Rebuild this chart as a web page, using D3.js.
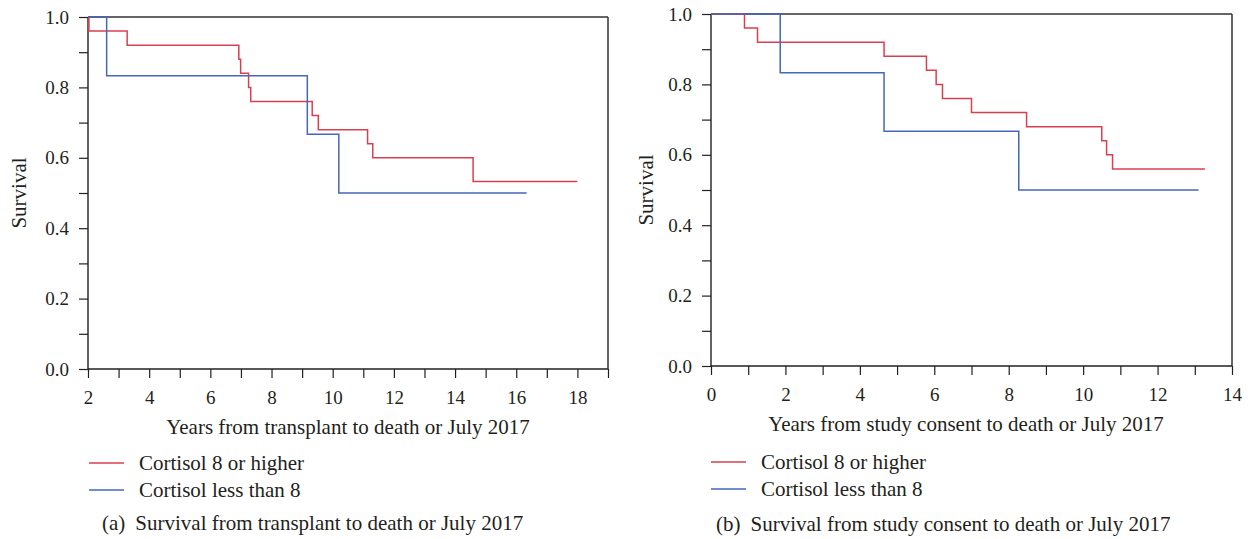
<!DOCTYPE html>
<html>
<head>
<meta charset="utf-8">
<script src="https://cdn.jsdelivr.net/npm/d3@7"></script>
<style>
  html, body { margin: 0; padding: 0; background: #fff; }
  svg { display: block; }
  text { font-family: "Liberation Serif", "DejaVu Serif", serif; fill: #231f20; }
</style>
</head>
<body>
<svg id="chart" width="1250" height="539"></svg>
<script>
// ---------- DATA ----------
const seriesNames = ["Cortisol 8 or higher", "Cortisol less than 8"];
const seriesColors = ["#d9404f", "#4466bb"];

// Panel (a): years from transplant
const aRedTimes  = [2, 2.03, 3.28, 6.93, 6.99, 7.25, 7.32, 9.33, 9.53, 11.14, 11.31, 14.59, 18.0];
const aRedSurv   = [1.0, 0.96, 0.92, 0.88, 0.84, 0.80, 0.76, 0.72, 0.68, 0.64, 0.60, 0.533, 0.533];
const aBlueTimes = [2, 2.61, 9.17, 10.2, 16.34];
const aBlueSurv  = [1.0, 0.833, 0.667, 0.5, 0.5];

// Panel (b): years from study consent
const bRedTimes  = [0, 0.9, 1.25, 4.65, 5.79, 6.05, 6.22, 7.0, 8.48, 10.5, 10.63, 10.79, 13.27];
const bRedSurv   = [1.0, 0.96, 0.92, 0.88, 0.84, 0.80, 0.76, 0.72, 0.68, 0.64, 0.60, 0.56, 0.56];
const bBlueTimes = [0, 1.86, 4.65, 8.27, 13.1];
const bBlueSurv  = [1.0, 0.833, 0.667, 0.5, 0.5];

const yTickValues = [0, 0.1, 0.2, 0.3, 0.4, 0.5, 0.6, 0.7, 0.8, 0.9, 1.0];
const yTickLabels = ["0.0", "0.2", "0.4", "0.6", "0.8", "1.0"];
const aXTicks = [2,3,4,5,6,7,8,9,10,11,12,13,14,15,16,17,18,19];
const aXLabels = [2,4,6,8,10,12,14,16,18];
const bXTicks = [0,1,2,3,4,5,6,7,8,9,10,11,12,13,14];
const bXLabels = [0,2,4,6,8,10,12,14];

const yLabel = "Survival";
const aXTitle = "Years from transplant to death or July 2017";
const bXTitle = "Years from study consent to death or July 2017";
const aCaption = ["(a)", "Survival from transplant to death or July 2017"];
const bCaption = ["(b)", "Survival from study consent to death or July 2017"];

// ---------- DRAW ----------
const svg = d3.select("#chart");
const SERIF = '"Liberation Serif", "DejaVu Serif", serif';

function panel(cfg) {
  const g = svg.append("g");
  const x = d3.scaleLinear().domain(cfg.xDomain).range([cfg.left, cfg.right]);
  const y = d3.scaleLinear().domain([0, 1]).range([cfg.bottom, cfg.top]);

  // frame (top and right)
  g.append("line").attr("x1", cfg.left).attr("x2", cfg.right)
    .attr("y1", cfg.top).attr("y2", cfg.top)
    .attr("stroke", "#333").attr("stroke-width", 1.5);
  g.append("line").attr("x1", cfg.right).attr("x2", cfg.right)
    .attr("y1", cfg.top).attr("y2", cfg.bottom)
    .attr("stroke", "#333").attr("stroke-width", 1.5);

  // y axis
  const yAxis = d3.axisLeft(y).tickValues(yTickValues).tickSize(9).tickPadding(10)
    .tickFormat(d => yTickLabels.includes(d.toFixed(1)) ? d.toFixed(1) : "");
  const ya = g.append("g").attr("transform", `translate(${cfg.left},0)`).call(yAxis);
  // x axis
  const xAxis = d3.axisBottom(x).tickValues(cfg.xTicks).tickSize(9).tickPadding(13)
    .tickFormat(d => cfg.xLabels.includes(d) ? String(d) : "");
  const xa = g.append("g").attr("transform", `translate(0,${cfg.bottom})`).call(xAxis);

  [ya, xa].forEach(a => {
    a.attr("font-family", SERIF).attr("font-size", 19);
    a.select(".domain").attr("stroke", "#231f20").attr("stroke-width", 1.4);
    a.selectAll(".tick line").attr("stroke", "#231f20").attr("stroke-width", 1.2);
    a.selectAll(".tick text").attr("font-family", SERIF).style("font-family", SERIF)
      .style("font-size", "19px").attr("fill", "#231f20");
  });
  ya.select(".domain").attr("d", `M0,${cfg.top}V${cfg.bottom}`);
  xa.select(".domain").attr("d", `M${cfg.left},0H${cfg.right}`);

  // curves
  const line = d3.line().x(d => x(d[0])).y(d => y(d[1])).curve(d3.curveStepAfter);
  cfg.series.forEach((s, i) => {
    const pts = s.t.map((t, k) => [t, s.s[k]]);
    g.append("path").attr("d", line(pts)).attr("fill", "none")
      .attr("stroke", seriesColors[i]).attr("stroke-width", 1.5);
  });

  // y label
  g.append("text").attr("transform", `translate(${cfg.yLabelX},${(cfg.top + cfg.bottom) / 2}) rotate(-90)`)
    .attr("text-anchor", "middle").style("font-size", "21px").text(yLabel);
  // x title
  g.append("text").attr("x", cfg.xTitleX).attr("y", cfg.xTitleY)
    .attr("text-anchor", "middle").style("font-size", "21px").text(cfg.xTitle);

  // legend
  seriesNames.forEach((name, i) => {
    const ly = cfg.legendY[i];
    g.append("line").attr("x1", cfg.legendX).attr("x2", cfg.legendX + 35)
      .attr("y1", ly).attr("y2", ly).attr("stroke", seriesColors[i]).attr("stroke-width", 1.5);
    g.append("text").attr("x", cfg.legendX + 50).attr("y", ly + 7)
      .style("font-size", "21px").text(name);
  });

  // caption
  const cap = g.append("text").attr("x", cfg.captionX).attr("y", cfg.captionY).style("font-size", "21px");
  cap.append("tspan").text(cfg.caption[0]);
  cap.append("tspan").attr("dx", 10).text(cfg.caption[1]);
}

panel({
  xDomain: [2, 19], left: 88, right: 608, top: 17, bottom: 369,
  xTicks: aXTicks, xLabels: aXLabels,
  series: [{t: aRedTimes, s: aRedSurv}, {t: aBlueTimes, s: aBlueSurv}],
  yLabelX: 26, xTitle: aXTitle, xTitleX: 348, xTitleY: 434,
  legendX: 89, legendY: [463, 490],
  caption: aCaption, captionX: 102, captionY: 530
});

panel({
  xDomain: [0, 14], left: 711, right: 1232, top: 14, bottom: 366,
  xTicks: bXTicks, xLabels: bXLabels,
  series: [{t: bRedTimes, s: bRedSurv}, {t: bBlueTimes, s: bBlueSurv}],
  yLabelX: 653, xTitle: bXTitle, xTitleX: 966, xTitleY: 431,
  legendX: 711, legendY: [462, 489],
  caption: bCaption, captionX: 716, captionY: 531
});
</script>
</body>
</html>
